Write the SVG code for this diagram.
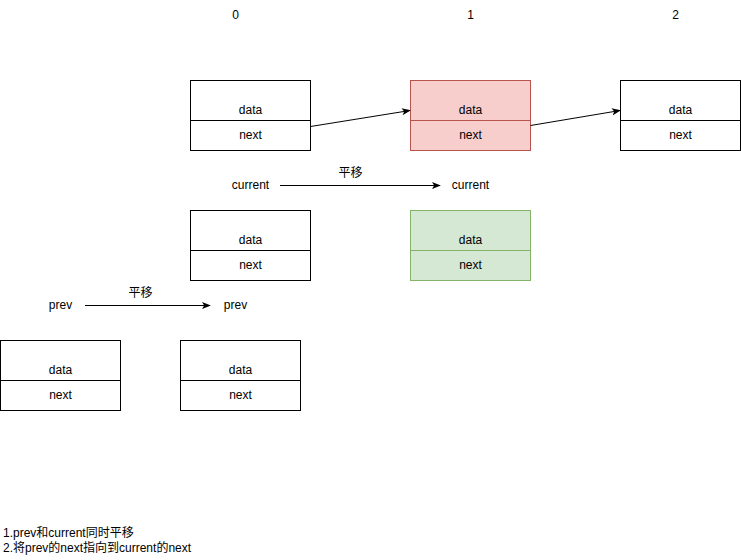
<svg xmlns="http://www.w3.org/2000/svg" width="741" height="560" viewBox="0 0 741 560">
  <style>
    text { font-family: "Liberation Sans", Arial, "Noto Sans CJK SC", sans-serif; font-size: 12px; fill: #000; }
    .c { text-anchor: middle; }
    .box { fill: #fff; stroke: #000; stroke-width: 1; }
    .red { fill: #f8cecc; stroke: #b85450; stroke-width: 1; }
    .green { fill: #d5e8d4; stroke: #82b366; stroke-width: 1; }
    .edge { fill: none; stroke: #000; stroke-width: 1; }
  </style>
  <defs>
    <marker id="arrow" viewBox="0 0 10 10" refX="9" refY="5" markerWidth="9" markerHeight="9" orient="auto" markerUnits="userSpaceOnUse">
      <path d="M0,1 L10,5 L0,9 L2.5,5 Z" fill="#000"/>
    </marker>
  </defs>

  <rect width="741" height="560" fill="#fff"/>

  <!-- index labels -->
  <g id="indices">
    <text class="c" x="235.5" y="19">0</text>
    <text class="c" x="470.5" y="19">1</text>
    <text class="c" x="675.5" y="19">2</text>
  </g>

  <!-- list nodes, top row -->
  <g id="node0">
    <rect class="box" x="190.5" y="80.5" width="120" height="40"/>
    <rect class="box" x="190.5" y="120.5" width="120" height="30"/>
    <text class="c" x="250.5" y="114">data</text>
    <text class="c" x="250.5" y="139">next</text>
  </g>
  <g id="node1">
    <rect class="red" x="410.5" y="80.5" width="120" height="40"/>
    <rect class="red" x="410.5" y="120.5" width="120" height="30"/>
    <text class="c" x="470.5" y="114">data</text>
    <text class="c" x="470.5" y="139">next</text>
  </g>
  <g id="node2">
    <rect class="box" x="620.5" y="80.5" width="120" height="40"/>
    <rect class="box" x="620.5" y="120.5" width="120" height="30"/>
    <text class="c" x="680.5" y="114">data</text>
    <text class="c" x="680.5" y="139">next</text>
  </g>

  <!-- current pointer -->
  <g id="current-old"><text class="c" x="250.5" y="189">current</text></g>
  <g id="current-new"><text class="c" x="470.5" y="189">current</text></g>

  <!-- second row -->
  <g id="node-cur-old">
    <rect class="box" x="190.5" y="210.5" width="120" height="40"/>
    <rect class="box" x="190.5" y="250.5" width="120" height="30"/>
    <text class="c" x="250.5" y="244">data</text>
    <text class="c" x="250.5" y="269">next</text>
  </g>
  <g id="node-cur-new">
    <rect class="green" x="410.5" y="210.5" width="120" height="40"/>
    <rect class="green" x="410.5" y="250.5" width="120" height="30"/>
    <text class="c" x="470.5" y="244">data</text>
    <text class="c" x="470.5" y="269">next</text>
  </g>

  <!-- prev pointer -->
  <g id="prev-old"><text class="c" x="60.5" y="309">prev</text></g>
  <g id="prev-new"><text class="c" x="235.5" y="309">prev</text></g>

  <!-- third row -->
  <g id="node-prev-old">
    <rect class="box" x="0.5" y="340.5" width="120" height="40"/>
    <rect class="box" x="0.5" y="380.5" width="120" height="30"/>
    <text class="c" x="60.5" y="374">data</text>
    <text class="c" x="60.5" y="399">next</text>
  </g>
  <g id="node-prev-new">
    <rect class="box" x="180.5" y="340.5" width="120" height="40"/>
    <rect class="box" x="180.5" y="380.5" width="120" height="30"/>
    <text class="c" x="240.5" y="374">data</text>
    <text class="c" x="240.5" y="399">next</text>
  </g>

  <!-- connectors -->
  <g id="connectors">
    <line class="edge" x1="310.5" y1="126.5" x2="410" y2="110.5" marker-end="url(#arrow)"/>
    <line class="edge" x1="530.5" y1="125.5" x2="620" y2="110.5" marker-end="url(#arrow)"/>
    <line class="edge" x1="280" y1="185.5" x2="440" y2="185.5" marker-end="url(#arrow)"/>
    <text class="c" x="350.5" y="177">平移</text>
    <line class="edge" x1="85" y1="305.5" x2="210" y2="305.5" marker-end="url(#arrow)"/>
    <text class="c" x="140.5" y="297">平移</text>
  </g>

  <!-- notes -->
  <g id="notes">
    <text x="3" y="537">1.prev和current同时平移</text>
    <text x="3" y="552">2.将prev的next指向到current的next</text>
  </g>
</svg>
